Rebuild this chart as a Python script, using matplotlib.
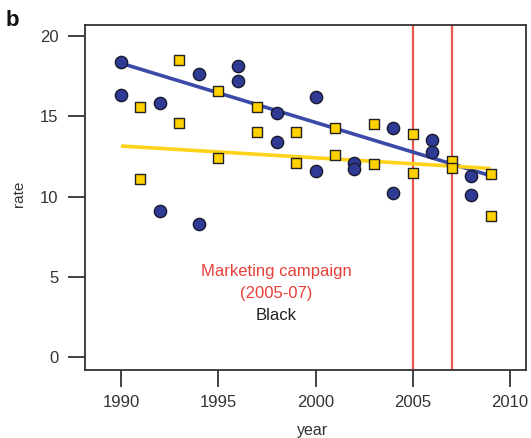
import matplotlib
matplotlib.use("Agg")
import matplotlib.pyplot as plt

plt.rcParams['font.family'] = ['Liberation Sans', 'DejaVu Sans']

# Data
circle_years = [1990, 1990, 1992, 1992, 1994, 1994, 1996, 1996, 1998, 1998,
                2000, 2000, 2002, 2002, 2004, 2004, 2006, 2006, 2008, 2008]
circle_rates = [18.4, 16.3, 15.8, 9.1, 17.6, 8.3, 18.1, 17.2, 15.2, 13.4,
                16.2, 11.6, 12.1, 11.7, 14.3, 10.2, 13.5, 12.8, 11.3, 10.1]
square_years = [1991, 1991, 1993, 1993, 1995, 1995, 1997, 1997, 1999, 1999,
                2001, 2001, 2003, 2003, 2005, 2005, 2007, 2007, 2009, 2009]
square_rates = [15.6, 11.1, 18.5, 14.6, 16.6, 12.4, 15.6, 14.0, 14.0, 12.1,
                14.3, 12.6, 14.5, 12.0, 13.9, 11.5, 12.2, 11.8, 11.4, 8.8]
blue_trend_years = [1990, 2009]
blue_trend_rates = [18.3, 11.3]
yellow_trend_years = [1990, 2009]
yellow_trend_rates = [13.15, 11.75]
campaign_years = [2005, 2007]
x_ticks = [1990, 1995, 2000, 2005, 2010]
y_ticks = [0, 5, 10, 15, 20]

W, H = 531, 438
fig = plt.figure(figsize=(W / 100, H / 100), dpi=100)
ax = fig.add_axes([85 / W, (H - 370) / H, (526 - 85) / W, (370 - 25) / H])

ax.set_xlim(1988.15, 2010.82)
ax.set_ylim(-0.79, 20.68)

for yr in campaign_years:
    ax.axvline(yr, color='#E8574D', lw=1.6, zorder=1)

ax.plot(blue_trend_years, blue_trend_rates, color='#3B4AA6', lw=2.6,
        solid_capstyle='butt', zorder=2)
ax.plot(yellow_trend_years, yellow_trend_rates, color='#FFD21A', lw=2.6,
        solid_capstyle='butt', zorder=2)

ax.scatter(circle_years, circle_rates, s=78, marker='o', facecolor='#2E3A94',
           edgecolor='#1A1A2E', linewidth=1.0, zorder=3)
ax.scatter(square_years, square_rates, s=62, marker='s', facecolor='#FFD200',
           edgecolor='#222222', linewidth=1.0, zorder=3)

ax.text(1998.0, 5.33, 'Marketing campaign', color='#E8403A', fontsize=12,
        ha='center', va='center')
ax.text(1998.0, 3.98, '(2005-07)', color='#E8403A', fontsize=12,
        ha='center', va='center')
ax.text(1998.0, 2.63, 'Black', color='#222222', fontsize=12,
        ha='center', va='center')

ax.set_xticks(x_ticks)
ax.set_yticks(y_ticks)
ax.tick_params(axis='both', direction='out', length=12, width=1.3,
               colors='#333333', labelsize=12, labelcolor='#333333')
ax.tick_params(axis='x', pad=6)
ax.tick_params(axis='y', pad=7)
for sp in ax.spines.values():
    sp.set_color('#333333')
    sp.set_linewidth(1.3)

fig.text(19 / W, 1 - 194 / H, 'rate', rotation=90, fontsize=11,
         ha='center', va='center', color='#333333')
fig.text(313 / W, 1 - 430 / H, 'year', fontsize=11.5,
         ha='center', va='center', color='#333333')
fig.text(12 / W, 1 - 20 / H, 'b', fontsize=16, fontweight='bold',
         ha='center', va='center', color='#111111')

fig.savefig('out.png', dpi=100)
